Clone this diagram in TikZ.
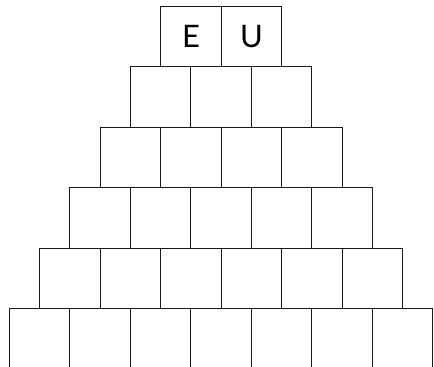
\documentclass[tikz,border=0pt]{standalone}
\usepackage{fontspec}
\setsansfont{Lato}
\begin{document}
\begin{tikzpicture}[x=1pt,y=-1pt,
  cell/.style={draw=black!90,line width=1pt,minimum width=60.5pt,minimum height=60.5pt,inner sep=0pt,outer sep=0pt,font=\sffamily\fontsize{31}{31}\selectfont}]
\useasboundingbox (0,0) rectangle (434,367);
\clip (0,0) rectangle (434,367);
\foreach \r in {0,...,5}{
  \pgfmathsetmacro{\n}{int(\r+2)}
  \foreach \c in {1,...,\n}{
    \node[cell] (c\r-\c) at ({160.7-30.25*\r+60.5*(\c-0.5)},{6+60.5*\r+30.25}) {};
  }
}
\node[font=\sffamily\fontsize{31}{31}\selectfont] (E) at (c0-1) {E};
\node[font=\sffamily\fontsize{31}{31}\selectfont] (U) at (c0-2) {U};
\end{tikzpicture}
\end{document}
